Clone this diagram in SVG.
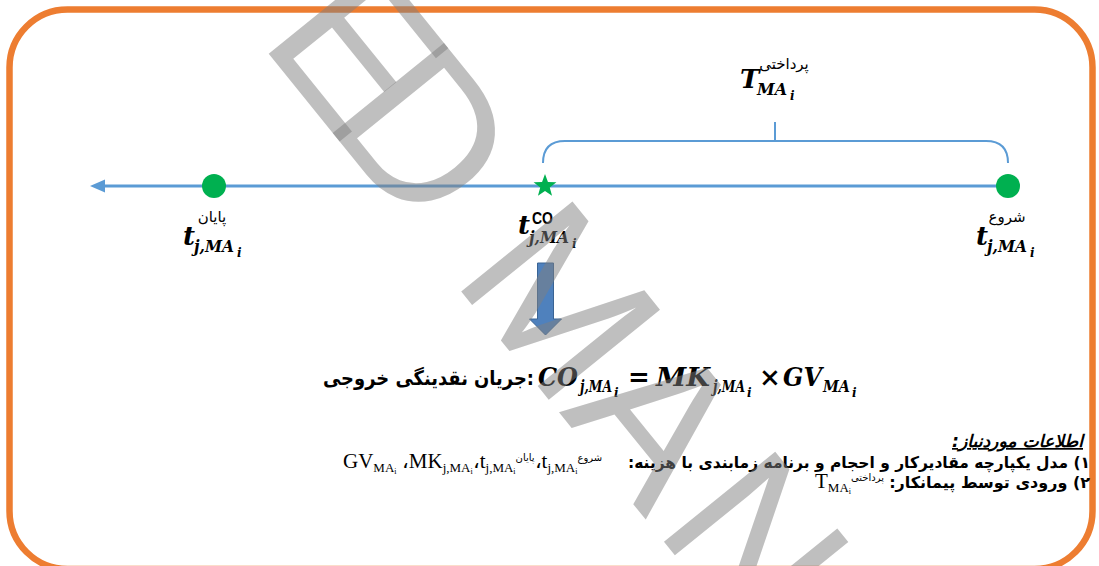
<svg xmlns="http://www.w3.org/2000/svg" width="1099" height="566" viewBox="0 0 1099 566">
<style>
.m{font-family:"DejaVu Serif",serif;font-weight:bold;font-style:italic;fill:#000}
.mr{font-family:"DejaVu Serif",serif;font-weight:bold;fill:#000}
.fa{font-family:"DejaVu Sans",sans-serif;fill:#000}
.fab{font-family:"DejaVu Sans",sans-serif;font-weight:bold;fill:#000}
.tm{font-family:"Liberation Serif",serif;fill:#000}
.blue{stroke:#5B9BD5;fill:none}
.dot{fill:#00B050}
</style>
<rect id="frame" x="9.5" y="9.5" width="1083" height="559.5" rx="58" ry="58" fill="#FFFFFF" stroke="#ED7D31" stroke-width="6.5"/>

<g id="connectors">
  <line class="blue" x1="103" y1="186" x2="1008" y2="186" stroke-width="3"/>
  <polygon points="90,186 105,179.5 105,192.5" fill="#5B9BD5"/>
  <path class="blue" stroke-width="2" d="M543,163 Q543,141 565,141 L986,141 Q1008,141 1008,163 M775,141 L775,122"/>
</g>

<g id="node-end">
  <circle class="dot" cx="214" cy="186" r="12"/>
  <text class="m" x="183" y="245" font-size="26">t</text>
  <text class="m" x="194" y="252" font-size="16" textLength="40" lengthAdjust="spacingAndGlyphs">j,MA</text>
  <text class="m" x="237" y="257" font-size="12">i</text>
  <text class="fa" x="212" y="222" font-size="15" text-anchor="middle">پایان</text>
</g>

<g id="node-co">
  <path class="dot" d="M545,174 L547.94,181.95 L556.41,182.29 L549.76,187.55 L552.05,195.71 L545,191 L537.95,195.71 L540.24,187.55 L533.59,182.29 L542.06,181.95 Z"/>
  <text class="m" x="518" y="234" font-size="26">t</text>
  <text x="532" y="224" font-size="16" font-family="Liberation Sans,sans-serif" font-weight="bold" textLength="21" lengthAdjust="spacingAndGlyphs">CO</text>
  <text class="m" x="529" y="243" font-size="16" textLength="40" lengthAdjust="spacingAndGlyphs">j,MA</text>
  <text class="m" x="572" y="248" font-size="12">i</text>
</g>

<g id="node-start">
  <circle class="dot" cx="1008" cy="186" r="12"/>
  <text class="m" x="976" y="245" font-size="26">t</text>
  <text class="m" x="987" y="252" font-size="16" textLength="40" lengthAdjust="spacingAndGlyphs">j,MA</text>
  <text class="m" x="1030" y="257" font-size="12">i</text>
  <text class="fa" x="1007" y="222" font-size="15" text-anchor="middle">شروع</text>
</g>

<g id="duration-label">
  <text class="m" x="740" y="88" font-size="26">T</text>
  <text class="m" x="757" y="95" font-size="16" textLength="30" lengthAdjust="spacingAndGlyphs">MA</text>
  <text class="m" x="790" y="100" font-size="12">i</text>
  <text class="fa" x="784" y="69" font-size="15" text-anchor="middle">پرداختی</text>
</g>

<g id="flow-arrow">
  <path d="M537.5,263 L553.5,263 L553.5,319 L561.5,319 L545.5,335 L529.5,319 L537.5,319 Z" fill="#4F81BD" stroke="#3A6494" stroke-width="1"/>
</g>

<g id="formula">
  <text class="fab" x="323" y="385" font-size="20" textLength="211" lengthAdjust="spacingAndGlyphs">جریان نقدینگی خروجی:</text>
  <text class="m" x="538" y="386" font-size="26" textLength="40" lengthAdjust="spacingAndGlyphs">CO</text>
  <text class="m" x="580" y="392" font-size="16" textLength="32" lengthAdjust="spacingAndGlyphs">j,MA</text>
  <text class="m" x="614" y="397" font-size="12">i</text>
  <text class="mr" x="628" y="386" font-size="26">=</text>
  <text class="m" x="656" y="386" font-size="26" textLength="54" lengthAdjust="spacingAndGlyphs">MK</text>
  <text class="m" x="713" y="392" font-size="16" textLength="32" lengthAdjust="spacingAndGlyphs">j,MA</text>
  <text class="m" x="747" y="397" font-size="12">i</text>
  <text class="mr" x="759" y="386" font-size="26">×</text>
  <text class="m" x="783" y="386" font-size="26" textLength="39" lengthAdjust="spacingAndGlyphs">GV</text>
  <text class="m" x="823" y="392" font-size="16" textLength="27" lengthAdjust="spacingAndGlyphs">MA</text>
  <text class="m" x="852" y="397" font-size="12">i</text>
</g>

<g id="info">
  <text class="fab" x="1083" y="447" font-size="17" font-style="italic" direction="rtl" text-anchor="start" text-decoration="underline" textLength="131" lengthAdjust="spacingAndGlyphs">اطلاعات موردنیاز:</text>
  <text class="fab" x="1090" y="468" font-size="16" direction="rtl" text-anchor="start" textLength="462" lengthAdjust="spacingAndGlyphs">۱) مدل یکپارچه مقادیرکار و احجام و برنامه زمابندی با هزینه:</text>
  <text class="tm" x="343" y="468" font-size="21">GV<tspan font-size="13" dy="4">MA</tspan><tspan font-size="8" dy="2">i</tspan><tspan dy="-6"> ،MK</tspan><tspan font-size="13" dy="4">j,MA</tspan><tspan font-size="8" dy="2">i</tspan><tspan dy="-6">،t</tspan><tspan font-size="13" dy="4">j,MA</tspan><tspan font-size="8" dy="2">i</tspan><tspan font-size="10" dy="-13" font-family="DejaVu Sans,sans-serif">پایان</tspan><tspan dy="7">،t</tspan><tspan font-size="13" dy="4">j,MA</tspan><tspan font-size="8" dy="2">i</tspan><tspan font-size="10" dy="-13" font-family="DejaVu Sans,sans-serif">شروع</tspan></text>
  <text class="fab" x="1090" y="488" font-size="16" direction="rtl" text-anchor="start">۲) ورودی توسط پیمانکار:</text>
  <text class="tm" x="815" y="488" font-size="21">T<tspan font-size="13" dy="4">MA</tspan><tspan font-size="8" dy="2">i</tspan><tspan font-size="10" dy="-13" font-family="DejaVu Sans,sans-serif">پرداختی</tspan></text>
</g>

<g id="watermark" transform="translate(268,53) rotate(51)" font-family="Liberation Sans,sans-serif" font-size="208" fill="#808080" fill-opacity="0.5">
  <text x="-16">E</text>
  <text x="86">D</text>
  <text x="290">M</text>
  <text x="462">A</text>
  <text x="612">N</text>
</g>
</svg>
